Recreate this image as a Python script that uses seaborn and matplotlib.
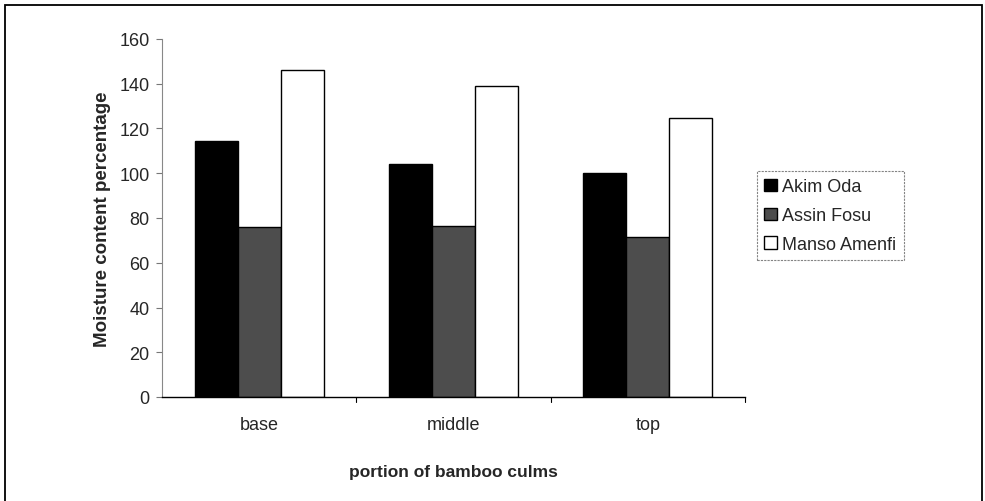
import matplotlib
matplotlib.use("Agg")
import matplotlib.pyplot as plt
import seaborn as sns
import pandas as pd
from matplotlib.patches import Rectangle

portions = ["base", "middle", "top"]
series = ["Akim Oda", "Assin Fosu", "Manso Amenfi"]
akim_oda = [114.5, 104, 100]
assin_fosu = [76, 76.5, 71.5]
manso_amenfi = [146, 139, 124.5]
yticks = [0, 20, 40, 60, 80, 100, 120, 140, 160]

df = pd.DataFrame({
    "portion": portions * 3,
    "site": [series[0]] * 3 + [series[1]] * 3 + [series[2]] * 3,
    "value": akim_oda + assin_fosu + manso_amenfi,
})

sns.set_theme(style="white")
plt.rcParams["font.family"] = ["Liberation Sans", "DejaVu Sans"]

fig = plt.figure(figsize=(9.85, 5.02), dpi=100)
ax = fig.add_axes([162 / 985, 1 - 398 / 502, (745 - 162) / 985, (398 - 40) / 502])

palette = {"Akim Oda": "#000000", "Assin Fosu": "#4d4d4d", "Manso Amenfi": "#ffffff"}
sns.barplot(data=df, x="portion", y="value", hue="site", order=portions,
            hue_order=series, palette=palette, width=0.665, gap=0,
            edgecolor="black", linewidth=1.0, saturation=1, ax=ax, legend=True)

ax.set_xlim(-0.5, 2.5)
ax.set_ylim(0, 160)
ax.set_yticks(yticks)
ax.set_yticklabels([str(t) for t in yticks], fontsize=13)
ax.tick_params(axis="x", labelsize=13, length=0, pad=14)
ax.tick_params(axis="y", left=True, length=4, width=0.8, color="#777777", pad=5)
ax.set_xlabel("portion of bamboo culms", fontsize=12.5, fontweight="bold", labelpad=22)
ax.set_ylabel("Moisture content percentage", fontsize=13.5, fontweight="bold", labelpad=6)
for s in ["top", "right"]:
    ax.spines[s].set_visible(False)
ax.spines["left"].set_color("#888888")
ax.spines["left"].set_linestyle((0, (2, 1)))
ax.spines["left"].set_linewidth(0.8)
ax.spines["bottom"].set_color("black")
ax.spines["bottom"].set_linewidth(1.0)

# category boundary ticks on x-axis
for b in [0.5, 1.5, 2.5]:
    ax.plot([b, b], [0, -2.2], color="black", lw=0.8, clip_on=False)

handles, labels = ax.get_legend_handles_labels()
ax.get_legend().remove()
leg = fig.legend(handles, labels, loc="upper left",
                 bbox_to_anchor=(757 / 985, 1 - 172 / 502), fontsize=13,
                 frameon=True, fancybox=False, handlelength=0.7, handleheight=0.7,
                 handletextpad=0.3, borderpad=0.4, borderaxespad=0,
                 labelspacing=0.66)
leg.get_frame().set_edgecolor("#666666")
leg.get_frame().set_linestyle((0, (2, 1)))
leg.get_frame().set_linewidth(0.8)

fig.patches.append(Rectangle((5 / 985, -0.01), (982 - 5) / 985, 1 - 6 / 502 + 0.01,
                             transform=fig.transFigure, fill=False,
                             edgecolor="black", linewidth=1.3))

fig.savefig("out.png", dpi=100)
